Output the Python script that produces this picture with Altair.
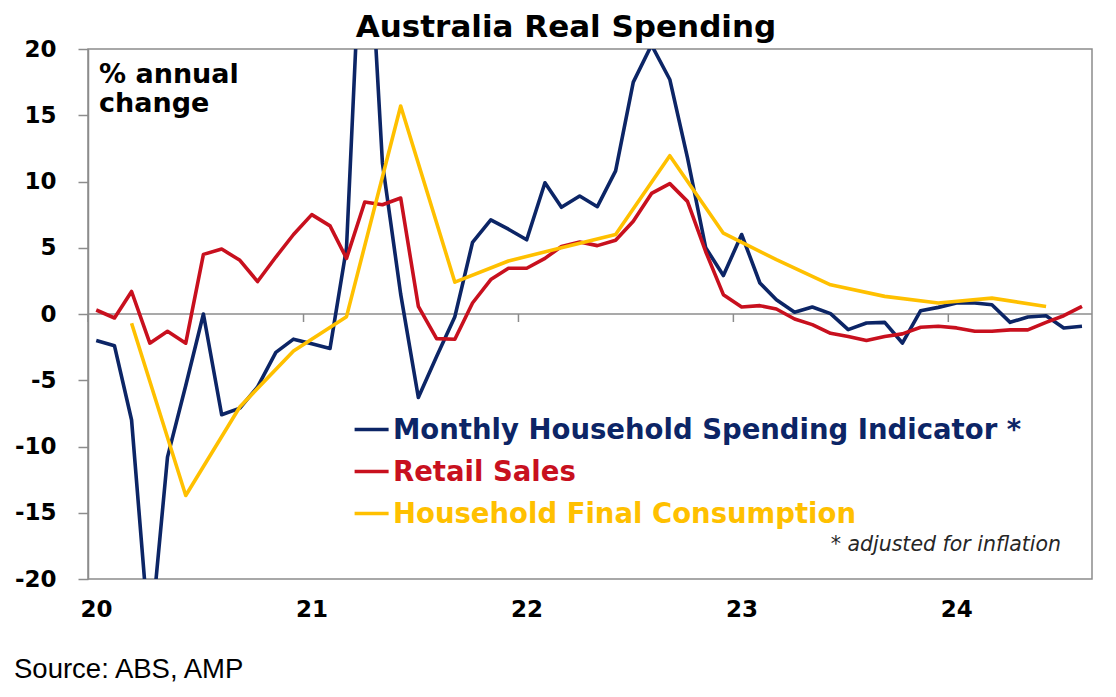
import altair as alt
import pandas as pd

# ---------------- data ----------------
tick_years = [2020, 2021, 2022, 2023, 2024]
y_ticks = [-20, -15, -10, -5, 0, 5, 10, 15, 20]

# Monthly Household Spending Indicator, % annual change, Jan 2020 .. Aug 2024
hsi = [-2.0, -2.4, -8.0, -25.0, -10.8, -5.4, 0.0, -7.6, -7.1, -5.5, -2.9, -1.9,
       -2.25, -2.6, 5.0, 35.0, 11.4, 1.5, -6.3, -3.2, -0.2, 5.4, 7.1, 6.4,
       5.6, 9.9, 8.05, 8.9, 8.1, 10.8, 17.5, 20.3, 17.7, 11.8, 5.0, 2.9,
       6.0, 2.34, 1.08, 0.13, 0.53, 0.03, -1.18, -0.68, -0.63, -2.19, 0.25, 0.5,
       0.83, 0.83, 0.7, -0.63, -0.23, -0.13, -1.06, -0.93]

# Retail Sales, % annual change, Jan 2020 .. Aug 2024
retail = [0.3, -0.3, 1.7, -2.2, -1.3, -2.2, 4.5, 4.9, 4.05, 2.45, 4.3, 6.0,
          7.5, 6.65, 4.2, 8.45, 8.25, 8.75, 0.58, -1.86, -1.9, 0.83, 2.6, 3.45,
          3.45, 4.2, 5.1, 5.43, 5.16, 5.56, 7.0, 9.1, 9.84, 8.5, 4.7, 1.46,
          0.53, 0.63, 0.38, -0.38, -0.8, -1.46, -1.7, -2.0, -1.7, -1.5, -1.0, -0.93,
          -1.05, -1.3, -1.3, -1.2, -1.2, -0.63, -0.13, 0.58]

# Household Final Consumption, % annual change, quarterly Mar 2020 .. Jun 2024
hfce = [-0.7, -13.7, -7.0, -2.8, -0.2, 15.7, 2.4, 4.0, 5.0, 6.0, 11.95, 6.1,
        4.1, 2.2, 1.33, 0.83, 1.2, 0.57]

series_names = ["Monthly Household Spending Indicator *", "Retail Sales",
                "Household Final Consumption"]
series_colors = ["#0C2566", "#C8101E", "#FFC000"]

title_text = "Australia Real Spending"
unit_text = "% annual\nchange"
footnote_text = "* adjusted for inflation"
source_text = "Source: ABS, AMP"

# ---------------- tables ----------------
monthly_dates = pd.date_range("2020-01-01", periods=len(hsi), freq="MS") + pd.Timedelta(days=14)
quarterly_dates = pd.date_range("2020-03-01", periods=len(hfce), freq="3MS") + pd.Timedelta(days=14)

df_hsi = pd.DataFrame({"date": monthly_dates, "value": hsi})
df_retail = pd.DataFrame({"date": monthly_dates, "value": retail})
df_hfce = pd.DataFrame({"date": quarterly_dates, "value": hfce})
df_ticks = pd.DataFrame({"date": [pd.Timestamp(year=y, month=1, day=1) for y in tick_years],
                         "value": [0] * len(tick_years)})
df_zero = pd.DataFrame({"value": [0]})

# ---------------- encodings ----------------
GRAY = "#8c8c8c"
FONT = "DejaVu Sans"

x_enc = alt.X(
    "date:T",
    scale=alt.Scale(domain=[alt.DateTime(year=2020, month=1, date=1),
                            alt.DateTime(year=2024, month=9, date=1)]),
    axis=alt.Axis(values=[alt.DateTime(year=y, month=1, date=1) for y in tick_years],
                  format="%y", labelOffset=8, labelFlush=False, labelOverlap=False,
                  ticks=False, domain=False, grid=False, title=None, labelPadding=19,
                  labelFont=FONT, labelFontSize=23, labelFontWeight="bold",
                  labelColor="#000000", labelAngle=0),
)
y_enc = alt.Y(
    "value:Q",
    scale=alt.Scale(domain=[-20, 20], nice=False, zero=False),
    axis=alt.Axis(values=y_ticks, labelExpr="'' + datum.value", grid=False, title=None,
                  domainColor=GRAY, domainWidth=1.5, tickColor=GRAY, tickWidth=1.5,
                  tickSize=10, labelPadding=22, labelFont=FONT, labelFontSize=23,
                  labelFontWeight="bold", labelColor="#000000"),
)

zero_line = alt.Chart(df_zero).mark_rule(color=GRAY, strokeWidth=1.5).encode(y=y_enc)
year_ticks = alt.Chart(df_ticks).mark_rule(color=GRAY, strokeWidth=1.5, y2Offset=8).encode(
    x=x_enc, y=y_enc, y2="value:Q")


def line(df, color):
    return alt.Chart(df).mark_line(color=color, strokeWidth=3.6, clip=True,
                                   strokeJoin="round").encode(x=x_enc, y=y_enc)


l_hsi = line(df_hsi, series_colors[0])
l_retail = line(df_retail, series_colors[1])
l_hfce = line(df_hfce, series_colors[2])


def text_layer(txt, x, y, **kw):
    return alt.Chart(pd.DataFrame({"t": [txt]})).mark_text(**kw).encode(
        x=alt.value(x), y=alt.value(y), text="t:N")


title = text_layer(title_text, 478, -12, font=FONT, fontSize=31, fontWeight="bold",
                   align="center", baseline="alphabetic", color="#000000")
unit = text_layer(unit_text, 11, 34.3, font=FONT, fontSize=27, fontWeight="bold",
                  align="left", baseline="alphabetic", color="#000000",
                  lineBreak="\n", lineHeight=28.5)
footnote = text_layer(footnote_text, 973, 501.7, font=FONT, fontSize=20.5,
                      fontStyle="italic", align="right", baseline="alphabetic",
                      color="#262626")
source = text_layer(source_text, -74, 629, font="Liberation Sans", fontSize=27.5,
                    align="left", baseline="alphabetic", color="#000000")

legend_layers = []
for k, (name, color) in enumerate(zip(series_names, series_colors)):
    base_y = 389.5 + 42 * k
    legend_layers.append(
        alt.Chart(pd.DataFrame({"t": [name]})).mark_rule(color=color, strokeWidth=3.6).encode(
            x=alt.value(266.6), x2=alt.value(300.6), y=alt.value(base_y - 9)))
    legend_layers.append(
        text_layer(name, 305, base_y, font=FONT, fontSize=27.5, fontWeight="bold",
                   align="left", baseline="alphabetic", color=color))

chart = alt.layer(
    zero_line, year_ticks, l_hsi, l_retail, l_hfce,
    title, unit, footnote, source, *legend_layers,
).properties(
    width=1004, height=530,
    autosize=alt.AutoSizeParams(type="none"),
    padding={"left": 80, "top": 41, "right": 14, "bottom": 108},
    background="white",
).configure_view(stroke=GRAY, strokeWidth=1.5)

chart.save("out.html", embed_options={"renderer": "svg", "actions": False})
